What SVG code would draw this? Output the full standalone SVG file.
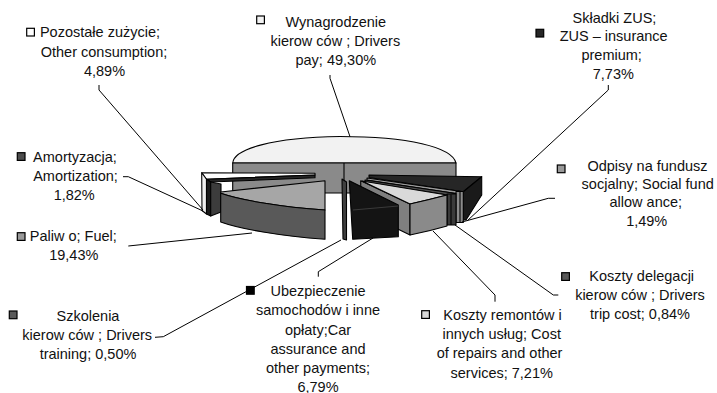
<svg xmlns="http://www.w3.org/2000/svg" width="717" height="393" viewBox="0 0 717 393">
<style>
  .t { font-family: "Liberation Sans", Arial, sans-serif; font-size: 14.5px; fill: #111; text-anchor: middle; }
  .k { stroke: #000; stroke-width: 1.2; }
  .s { stroke: #000; stroke-width: 1.1; stroke-linejoin: round; }
  .ln { fill: none; stroke: #000; stroke-width: 1; }
</style>
<rect width="717" height="393" fill="#fff"/>

<!-- pie slices -->
<g id="slice-wynagrodzenie">
  <path class="s" fill="#f2f2f2" d="M232.7,163 C234,149 272,137.5 340,136.5 C408,136.5 452,147 456,163 Z"/>
  <rect class="s" x="232.7" y="163" width="223.3" height="30" fill="#8a8a8a"/>
  <line class="s" x1="344" y1="163" x2="344" y2="193"/>
</g>
<g id="slice-zus">
  <polygon class="s" fill="#262626" points="369,175 481.7,176.7 463.3,191.7 369,177.5"/>
  <polygon class="s" fill="#1a1a1a" points="463.3,191.7 481.7,176.7 481.7,195 466,220 463.3,220"/>
</g>
<g id="slice-odpisy">
  <polygon class="s" fill="#9a9a9a" points="367,178 463.3,191.7 456,193.5 367,180"/>
  <rect class="s" x="456" y="191.5" width="7.3" height="31" fill="#8c8c8c"/>
  <line class="s" x1="460" y1="192" x2="460" y2="222"/>
</g>
<g id="slice-delegacji">
  <polygon class="s" fill="#4d4d4d" points="365,180 456,193.5 448,195 365,182"/>
  <rect class="s" x="447" y="194" width="9" height="31" fill="#3a3a3a"/>
  <line class="s" x1="451" y1="194.5" x2="451" y2="225"/>
</g>
<g id="slice-remontow">
  <polygon class="s" fill="#7f7f7f" points="360.7,180.7 410,204 410,235 361,211"/>
  <path class="s" fill="#d9d9d9" d="M362,181 L447,195 Q430,199.5 410,204 Z"/>
  <path class="s" fill="#8a8a8a" d="M410,204 Q430,199.5 447,195 L447,226 Q430,231 410,235 Z"/>
</g>
<g id="slice-ubezpieczenie">
  <polygon class="s" fill="#141414" points="349.3,180.7 398.3,205 398.3,236.7 352.7,239.3"/>
  <line x1="353" y1="210" x2="398.3" y2="206" stroke="#3a3a3a" stroke-width="1"/>
</g>
<g id="slice-szkolenia">
  <polygon class="s" fill="#3f3f3f" points="342,179 346.5,182 346.5,240 343,239"/>
</g>
<g id="slice-pozostale">
  <polygon class="s" fill="#ffffff" points="201.7,172.7 315,173.3 315,175 206.5,179.3"/>
  <polygon class="s" fill="#efefef" points="201.7,172.7 206.5,179.3 206.5,214 202,210.5"/>
</g>
<g id="slice-amortyzacja">
  <polygon class="s" fill="#262626" points="206.5,179.3 315,175 315,177.8 210.7,182"/>
  <polygon class="s" fill="#1a1a1a" points="206.5,179.3 210.7,182 210.7,216 206.5,214"/>
  <polygon class="s" fill="#3c3c3c" points="210.7,182 221,184 221,212 210.7,216"/>
</g>
<g id="slice-paliwo">
  <path class="s" fill="#a6a6a6" d="M220.7,192 L325,180.7 L325,210 C280,207 240,200 220.7,193.3 Z"/>
  <path class="s" fill="#595959" d="M220.7,193.3 C240,200 280,207 325,210 L325,239.3 C280,236 240,229 220.7,222 Z"/>
</g>

<!-- connectors -->
<g id="connectors">
  <polyline class="ln" points="99,85 99,90 203,210"/>
  <polyline class="ln" points="330,75 330,78.3 350,136.7"/>
  <polyline class="ln" points="608.3,85 608.3,90 467,221"/>
  <polyline class="ln" points="123,176.7 128.3,176.7 203,211"/>
  <polyline class="ln" points="128.3,246 252,233"/>
  <polyline class="ln" points="555,198.3 548.3,198.3 462,222"/>
  <polyline class="ln" points="558.3,295 553.3,295 455,225"/>
  <polyline class="ln" points="495,301.7 495,295 433,231"/>
  <polyline class="ln" points="155,337.3 163.3,336.7 341,240"/>
  <polyline class="ln" points="318.3,276.7 318.3,271.7 373,238"/>
</g>

<!-- labels -->
<g id="label-pozostale">
  <rect class="k" x="26.7" y="28.3" width="7.7" height="7.7" fill="#ffffff"/>
  <text class="t" x="100" y="37">Pozostałe zużycie;</text>
  <text class="t" x="104" y="57">Other consumption;</text>
  <text class="t" x="104.5" y="76">4,89%</text>
</g>
<g id="label-wynagrodzenie">
  <rect class="k" x="256.7" y="16" width="7.7" height="7.7" fill="#f2f2f2"/>
  <text class="t" x="335.8" y="27">Wynagrodzenie</text>
  <text class="t" x="335.3" y="46">kierow ców ; Drivers</text>
  <text class="t" x="335.8" y="65">pay; 49,30%</text>
</g>
<g id="label-zus">
  <rect class="k" x="536" y="29.3" width="7.7" height="7.7" fill="#262626"/>
  <text class="t" x="614.5" y="22.5">Składki ZUS;</text>
  <text class="t" x="613.7" y="41">ZUS – insurance</text>
  <text class="t" x="611.7" y="60">premium;</text>
  <text class="t" x="613.3" y="79">7,73%</text>
</g>
<g id="label-amortyzacja">
  <rect class="k" x="17.3" y="152.7" width="7.7" height="7.7" fill="#4d4d4d"/>
  <text class="t" x="75" y="162">Amortyzacja;</text>
  <text class="t" x="75.5" y="181">Amortization;</text>
  <text class="t" x="74.2" y="200">1,82%</text>
</g>
<g id="label-paliwo">
  <rect class="k" x="17.3" y="232.7" width="7.7" height="7.7" fill="#999999"/>
  <text class="t" x="73.3" y="240.5">Paliw o; Fuel;</text>
  <text class="t" x="73.8" y="259.5">19,43%</text>
</g>
<g id="label-odpisy">
  <rect class="k" x="557.3" y="165" width="7.7" height="7.7" fill="#999999"/>
  <text class="t" x="647.5" y="171">Odpisy na fundusz</text>
  <text class="t" x="647.7" y="189">socjalny; Social fund</text>
  <text class="t" x="645.8" y="207">allow ance;</text>
  <text class="t" x="646.7" y="225.5">1,49%</text>
</g>
<g id="label-delegacji">
  <rect class="k" x="561.7" y="272.7" width="7.7" height="7.7" fill="#595959"/>
  <text class="t" x="641.7" y="281">Koszty delegacji</text>
  <text class="t" x="640" y="300">kierow ców ; Drivers</text>
  <text class="t" x="640" y="319">trip cost; 0,84%</text>
</g>
<g id="label-remontow">
  <rect class="k" x="421.7" y="310.7" width="7.7" height="7.7" fill="#d9d9d9"/>
  <text class="t" x="502.5" y="320">Koszty remontów i</text>
  <text class="t" x="501.7" y="339">innych usług; Cost</text>
  <text class="t" x="499.5" y="358">of repairs and other</text>
  <text class="t" x="501.7" y="377.5">services; 7,21%</text>
</g>
<g id="label-szkolenia">
  <rect class="k" x="9.3" y="311" width="7.7" height="7.7" fill="#595959"/>
  <text class="t" x="88" y="320.5">Szkolenia</text>
  <text class="t" x="87.2" y="340">kierow ców ; Drivers</text>
  <text class="t" x="88" y="359">training; 0,50%</text>
</g>
<g id="label-ubezpieczenie">
  <rect class="k" x="246.5" y="286.5" width="7.7" height="7.7" fill="#000000"/>
  <text class="t" x="318" y="296">Ubezpieczenie</text>
  <text class="t" x="318" y="315">samochodów i inne</text>
  <text class="t" x="318" y="334.5">opłaty;Car</text>
  <text class="t" x="318" y="353.5">assurance and</text>
  <text class="t" x="318" y="373">other payments;</text>
  <text class="t" x="318" y="391.5">6,79%</text>
</g>
</svg>
